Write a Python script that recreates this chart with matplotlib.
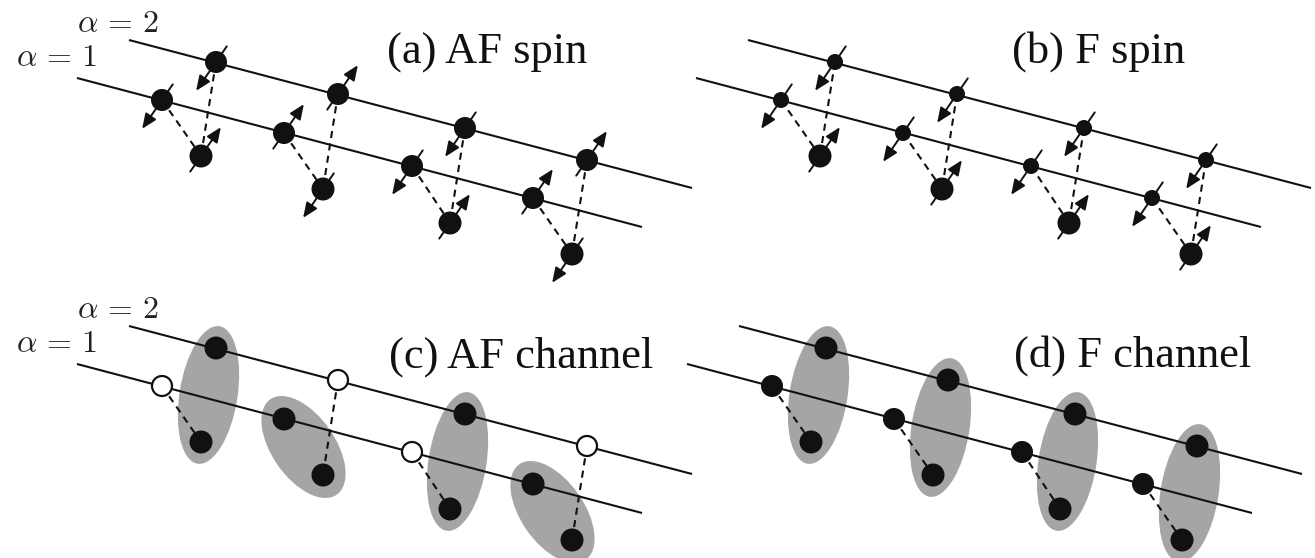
import numpy as np
import matplotlib
matplotlib.use("Agg")
import matplotlib.pyplot as plt
from matplotlib.patches import Ellipse, Circle, FancyArrowPatch

plt.rcParams['mathtext.fontset'] = 'cm'

# ---------------- data (base geometry of panel (a), pixel units) ----------------
UPPER_X = [216, 338, 465, 587]
UPPER_Y = [62, 94, 128, 160]
LOWER_X = [162, 284, 412, 533]
LOWER_Y = [100, 133, 166, 198]
BOTTOM_X = [201, 323, 450, 572]
BOTTOM_Y = [156, 189, 223, 254]
UPPER_LINE = [(129, 40), (692, 188)]
LOWER_LINE = [(77, 78), (642, 227)]

PANELS = ["a", "b", "c", "d"]
PANEL_DX = [0, 619, 0, 610]
PANEL_DY = [0, 0, 286, 286]
TITLES = ["(a) AF spin", "(b) F spin", "(c) AF channel", "(d) F channel"]
TITLE_X = [487, 1099, 521, 1133]
TITLE_Y = [53, 52, 357, 356]

# spins: +1 = up-right, -1 = down-left
SPIN_A_UPPER = [-1, 1, -1, 1]
SPIN_A_LOWER = [-1, 1, -1, 1]
SPIN_A_BOTTOM = [1, -1, 1, -1]
SPIN_B_UPPER = [-1, -1, -1, -1]
SPIN_B_LOWER = [-1, -1, -1, -1]
SPIN_B_BOTTOM = [1, 1, 1, 1]

# channel panels: which chain partner forms the pair ('u' upper / 'l' lower)
PAIR_C = ['u', 'l', 'u', 'l']
PAIR_D = ['u', 'u', 'u', 'u']

W, H = 1315, 558
fig = plt.figure(figsize=(W / 100, H / 100), dpi=100)
ax = fig.add_axes([0, 0, 1, 1])
ax.set_xlim(0, W)
ax.set_ylim(H, 0)
ax.set_aspect('equal')
ax.axis('off')

DOT = '#111111'
GREY = '#a5a5a5'
LW = 1.5
DASH = (0, (3.4, 2.6))
U = np.array([0.567, -0.823])


def dot(x, y, d, open_=False):
    if open_:
        c = Circle((x, y), d / 2 - 1, facecolor='white', edgecolor=DOT, lw=1.6, zorder=4)
    else:
        c = Circle((x, y), d / 2, facecolor=DOT, edgecolor='none', zorder=4)
    ax.add_patch(c)


def spin(x, y, s):
    d = U * s
    p0 = np.array([x, y]) - 19 * d
    p1 = np.array([x, y]) + 35 * d
    a = FancyArrowPatch(tuple(p0), tuple(p1),
                        arrowstyle='-|>,head_length=0.75,head_width=0.32',
                        mutation_scale=12, lw=1.4, color=DOT,
                        shrinkA=0, shrinkB=0, zorder=5)
    ax.add_patch(a)


def dashed(p, q):
    ax.plot([p[0], q[0]], [p[1], q[1]], color=DOT, lw=1.5, linestyle=DASH,
            zorder=2, solid_capstyle='butt', dash_capstyle='butt')


def ellipse(p, q, extra, minor):
    p = np.array(p, float)
    q = np.array(q, float)
    c = (p + q) / 2
    v = q - p
    L = np.hypot(*v)
    ang = np.degrees(np.arctan2(v[1], v[0]))
    e = Ellipse(tuple(c), L + extra, minor, angle=ang, facecolor=GREY,
                edgecolor='none', zorder=1)
    ax.add_patch(e)


for k, name in enumerate(PANELS):
    dx, dy = PANEL_DX[k], PANEL_DY[k]
    ups = [(x + dx, y + dy) for x, y in zip(UPPER_X, UPPER_Y)]
    los = [(x + dx, y + dy) for x, y in zip(LOWER_X, LOWER_Y)]
    bos = [(x + dx, y + dy) for x, y in zip(BOTTOM_X, BOTTOM_Y)]
    for line in (UPPER_LINE, LOWER_LINE):
        ax.plot([line[0][0] + dx, line[1][0] + dx], [line[0][1] + dy, line[1][1] + dy],
                color=DOT, lw=LW, zorder=3, solid_capstyle='butt')
    ax.text(TITLE_X[k], TITLE_Y[k], TITLES[k], ha='center', va='center',
            fontsize=32, family='Liberation Serif', color='#111111')

    if name in ('a', 'b'):
        chain_d = 22 if name == 'a' else 16
        su = SPIN_A_UPPER if name == 'a' else SPIN_B_UPPER
        sl = SPIN_A_LOWER if name == 'a' else SPIN_B_LOWER
        sb = SPIN_A_BOTTOM if name == 'a' else SPIN_B_BOTTOM
        for i in range(4):
            dashed(ups[i], bos[i])
            dashed(los[i], bos[i])
            dot(*ups[i], chain_d)
            dot(*los[i], chain_d)
            dot(*bos[i], 23)
            spin(*ups[i], su[i])
            spin(*los[i], sl[i])
            spin(*bos[i], sb[i])
    else:
        pairs = PAIR_C if name == 'c' else PAIR_D
        for i in range(4):
            if pairs[i] == 'u':
                ellipse(ups[i], bos[i], 44, 58)
                other = los[i]
                partner = ups[i]
            else:
                ellipse(los[i], bos[i], 48, 63)
                other = ups[i]
                partner = los[i]
            dashed(other, bos[i])
            dot(*partner, 23)
            dot(*bos[i], 23)
            dot(*other, 22, open_=(name == 'c'))

# alpha labels (panels a and c)
ALPHA_LABELS = [r'$\alpha\,=\,2$', r'$\alpha\,=\,1$']
ALPHA_X = [118, 57]
ALPHA_Y = [24, 58]
for dy in (0, 286):
    for lab, x, y in zip(ALPHA_LABELS, ALPHA_X, ALPHA_Y):
        ax.text(x, y + dy, lab, ha='center', va='center', fontsize=23, color='#222222')

fig.savefig('out.png', dpi=100)
